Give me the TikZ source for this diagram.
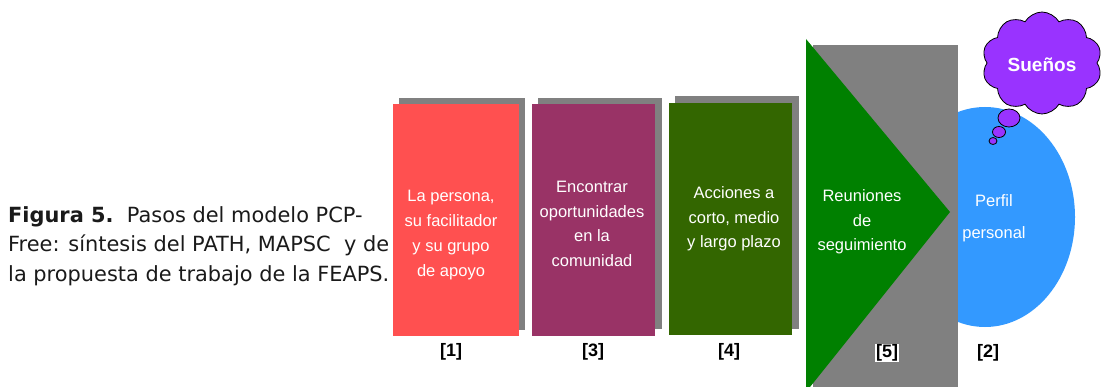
\documentclass[tikz,border=0pt]{standalone}
\usepackage{fontspec}
\setmainfont{Liberation Sans}
\newfontfamily\capfont{DejaVu Sans}
\usetikzlibrary{shapes.geometric,shapes.symbols}
\definecolor{cred}{HTML}{FF5050}
\definecolor{cplum}{HTML}{993366}
\definecolor{colive}{HTML}{336600}
\definecolor{cgray}{HTML}{808080}
\definecolor{cgreen}{HTML}{008000}
\definecolor{cblue}{HTML}{3399FF}
\definecolor{cviolet}{HTML}{9933FF}
\definecolor{ccap}{HTML}{1A1A1A}
\tikzset{
  shadowbox/.style={rectangle, fill=cgray, inner sep=0, draw=none},
  stepbox/.style={rectangle, inner sep=0, draw=none},
  boxtext/.style={text=white, align=center, inner sep=0, font=\fontsize{16.5}{24.7}\selectfont},
  numlabel/.style={text=black, inner sep=1, font=\fontsize{18}{20}\selectfont\bfseries},
  bubble/.style={ellipse, draw=black, line width=0.8, fill=cviolet, inner sep=0},
}
\begin{document}
\begin{tikzpicture}[x=1pt,y=-1pt]
\useasboundingbox (0,0) rectangle (1102,387);
% caption
\node[anchor=north west, align=left, inner sep=0, text=ccap,
      font=\capfont\fontsize{20.9}{29.5}\selectfont] (cap) at (8,206)
  {\textbf{Figura 5.}\ \ Pasos del modelo PCP-\\Free: síntesis del PATH, MAPSC\ \ y de\\la propuesta de trabajo de la FEAPS.};
% box 1
\node[shadowbox, minimum width=126, minimum height=232] (s1) at (462,214) {};
\node[stepbox, fill=cred, minimum width=126, minimum height=232] (b1) at (456,220) {};
\node[boxtext] (t1) at (451,235) {La persona,\\su facilitador\\y su grupo\\de apoyo};
\node[numlabel] (l1) at (451,352) {[1]};
% box 3
\node[shadowbox, minimum width=124, minimum height=231] (s3) at (600,213.5) {};
\node[stepbox, fill=cplum, minimum width=123, minimum height=232] (b3) at (593.5,220) {};
\node[boxtext] (t3) at (592,224) {Encontrar\\oportunidades\\en la\\comunidad};
\node[numlabel] (l3) at (593,352) {[3]};
% box 4
\node[shadowbox, minimum width=124, minimum height=233] (s4) at (737,212.5) {};
\node[stepbox, fill=colive, minimum width=123, minimum height=232] (b4) at (730.5,219) {};
\node[boxtext] (t4) at (734,219) {Acciones a\\corto, medio\\y largo plazo};
\node[numlabel] (l4) at (729,352) {[4]};
% profile ellipse
\node[ellipse, fill=cblue, inner sep=0, minimum width=180, minimum height=220] (perfil) at (985,217) {};
% big gray rectangle and triangle
\node[shadowbox, minimum width=145, minimum height=350] (g5) at (885.5,220) {};
\fill[cgreen] (806,39) -- (950,212) -- (806,392) -- cycle;
\node[boxtext] (t5) at (862,222) {Reuniones\\de\\seguimiento};
\node[boxtext, font=\fontsize{16.5}{32}\selectfont] (t2) at (994,218) {Perfil\\personal};
\node[numlabel, fill=white] (l5) at (887,353) {[5]};
\node[numlabel] (l2) at (988,353) {[2]};
% dream cloud
\node[cloud, cloud puffs=10, cloud puff arc=120, aspect=1.2, draw=black, line width=0.8, fill=cviolet,
      minimum width=120, minimum height=102, inner sep=0] (dream) at (1042,63) {};
\node[text=white, inner sep=0, font=\fontsize{19}{20}\selectfont\bfseries] (suenos) at (1042,65) {Sueños};
\node[bubble, minimum width=22, minimum height=18] (bb1) at (1009,118) {};
\node[bubble, minimum width=13, minimum height=11] (bb2) at (999,132) {};
\node[bubble, minimum width=8, minimum height=7] (bb3) at (993,141) {};
\end{tikzpicture}
\end{document}
